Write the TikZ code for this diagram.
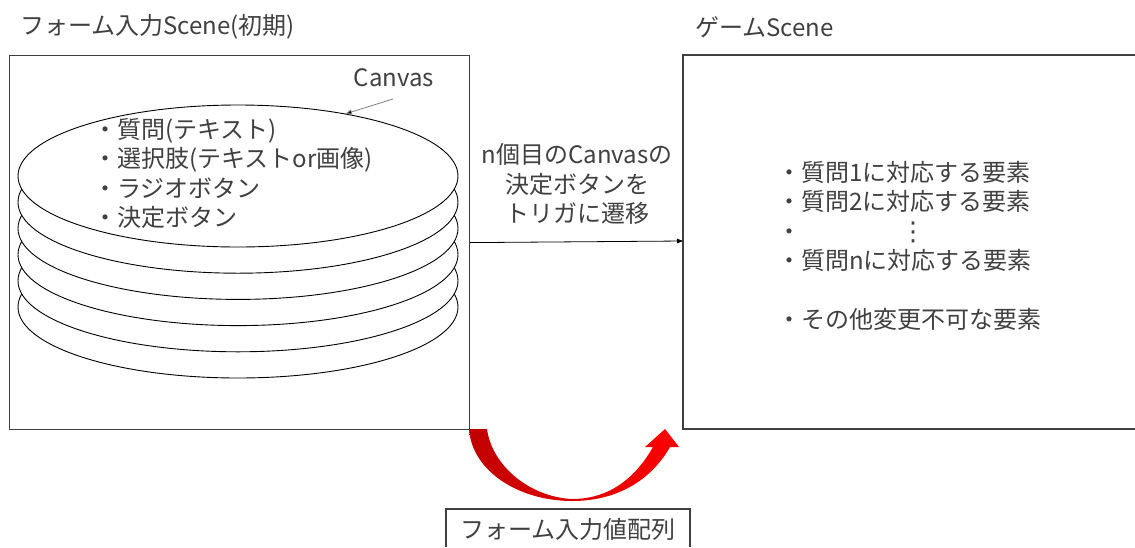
\documentclass[tikz,border=0pt]{standalone}
\usepackage{fontspec}
\setmainfont{Noto Sans CJK JP}
\newfontfamily\symfont{DejaVu Sans}
\usetikzlibrary{arrows.meta,shapes.geometric}
\definecolor{txt}{HTML}{404040}
\definecolor{ln}{HTML}{404040}
\definecolor{dred}{HTML}{C00000}
\definecolor{bred}{HTML}{FF0000}
\begin{document}
\begin{tikzpicture}[x=1pt,y=-1pt,
  font=\fontsize{24}{29.5}\selectfont,
  every node/.style={text=txt},
  canvas/.style={ellipse, draw=black, fill=white, minimum width=440, minimum height=142, inner sep=0, line width=0.9pt},
  frame/.style={draw=ln, line width=1.2pt},
  plain/.style={inner sep=0}]
\useasboundingbox (0,0) rectangle (1135,547);

% titles
\node[plain, anchor=west] (t1) at (20,27) {フォーム入力Scene(初期)};
\node[plain, anchor=west] (t2) at (695,27) {ゲームScene};

% left frame
\node[frame, minimum width=460, minimum height=374, inner sep=0, anchor=north west] (L) at (9,55) {};

% right frame (right side runs off the page)
\coordinate (Rnw) at (683,55);
\coordinate (Rsw) at (683,429);
\coordinate (Rne) at (1136,55);
\coordinate (Rse) at (1136,429);
\coordinate (Rw) at (683,241);
\draw[frame] (Rne) -- (Rnw) -- (Rsw) -- (Rse);

% stacked canvases
\foreach \k in {5,4,3,2,1}
  \node[canvas] (c\k) at (238,{176+26.2*\k}) {};
\node[canvas] (c0) at (238,176) {};

\node[plain, anchor=north west, align=left] (ctext) at (93,118)
  {・質問(テキスト)\\・選択肢(テキストor画像)\\・ラジオボタン\\・決定ボタン};

% Canvas label
\node[plain] (cl) at (394,78) {Canvas};
\coordinate (ca) at (393,99);
\draw[gray, line width=0.8pt, -{Triangle[length=6pt,width=5pt,fill=black]}] (ca) -- (c0.30);

% middle
\node[plain, align=center] (mid) at (577,184) {n個目のCanvasの\\決定ボタンを\\トリガに遷移};
\draw[black, line width=0.8pt, -{Triangle[length=6pt,width=4.5pt]}] (L.east) -- (Rw);

% right text
\node[plain, anchor=north west, align=left] (rtext) at (777,161)
  {・質問1に対応する要素\\・質問2に対応する要素\\・\\・質問nに対応する要素\\[29.5pt]・その他変更不可な要素};
\node[plain, font=\symfont\fontsize{26}{30}\selectfont] (vdots) at (913,232) {⋮};

% bottom box
\coordinate (Bsw) at (446,547);
\coordinate (Bse) at (690,547);
\draw[frame] (Bsw) -- (446,509) -- (690,509) -- (Bse);
\node[plain] (arr) at (568,529) {フォーム入力値配列};

% red curved arrow
\shade[left color=dred, right color=bred]
  (469,429) .. controls (472,472) and (520,501) .. (572,501)
  .. controls (615,501) and (650,482) .. (670,447)
  -- (679,447) -- (665,429) -- (645,447) -- (653,447)
  .. controls (636,477) and (610,499) .. (572,499)
  .. controls (530,497) and (492,466) .. (487,429) -- cycle;
\end{tikzpicture}
\end{document}
